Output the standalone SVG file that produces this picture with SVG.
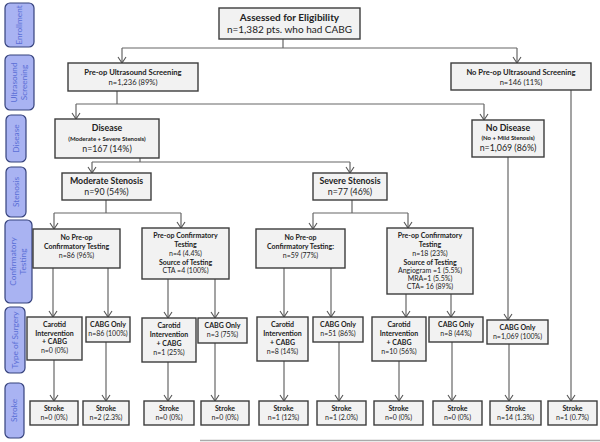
<svg xmlns="http://www.w3.org/2000/svg" width="600" height="442" viewBox="0 0 600 442">
<style>
.box{fill:#f2f2f2;stroke:#3c3c3c;stroke-width:1.4}
.side{fill:#a9b3f2;stroke:#35427c;stroke-width:1.2}
.sl{font-family:Lato,"Open Sans","Liberation Sans",sans-serif;font-size:8.3px;fill:#5b6fd6;text-anchor:middle}
.t{font-family:Lato,"Open Sans","Liberation Sans",sans-serif;font-size:7px;fill:#222;text-anchor:middle}
.b{font-weight:bold}
.big{font-size:10px}
.m{font-size:8.8px}
.u{font-size:7.6px}
.s{font-size:6px}
.conn path{fill:none;stroke:#666;stroke-width:1.2}
.conn path.a{marker-end:url(#ah)}
</style>
<defs>
<marker id="ah" markerUnits="userSpaceOnUse" viewBox="-7 -5 8 10" markerWidth="8" markerHeight="10" refX="0" refY="0" orient="auto">
<path d="M-6,-4 L0,0 L-6,4" fill="none" stroke="#555" stroke-width="1.1"/>
</marker>
</defs>
<rect width="600" height="442" fill="#ffffff"/>

<g id="sidebar">
<g id="lbl-enrollment"><rect class="side" x="5" y="3" width="29" height="44" rx="5"/><text class="sl" transform="translate(19.5,25) rotate(-90)" dy=".35em">Enrollment</text></g>
<g id="lbl-ultrasound"><rect class="side" x="5" y="55" width="29" height="55" rx="5"/><text class="sl" transform="translate(14.5,82.5) rotate(-90)" dy=".35em">Ultrasound</text><text class="sl" transform="translate(24.5,82.5) rotate(-90)" dy=".35em">Screening</text></g>
<g id="lbl-disease"><rect class="side" x="6" y="115" width="20" height="47" rx="5"/><text class="sl" transform="translate(16,138.5) rotate(-90)" dy=".35em">Disease</text></g>
<g id="lbl-stenosis"><rect class="side" x="6" y="167" width="20" height="50" rx="5"/><text class="sl" transform="translate(16,192) rotate(-90)" dy=".35em">Stenosis</text></g>
<g id="lbl-confirm"><rect class="side" x="5" y="220" width="27" height="83" rx="5"/><text class="sl" transform="translate(13.5,261.5) rotate(-90)" dy=".35em">Confirmatory</text><text class="sl" transform="translate(23.5,261.5) rotate(-90)" dy=".35em">Testing</text></g>
<g id="lbl-surgery"><rect class="side" x="5" y="307" width="20" height="66" rx="5"/><text class="sl" transform="translate(15,340) rotate(-90)" dy=".35em">Type of Surgery</text></g>
<g id="lbl-stroke"><rect class="side" x="5" y="383" width="19" height="55" rx="5"/><text class="sl" transform="translate(14.5,410.5) rotate(-90)" dy=".35em">Stroke</text></g>
</g>

<g class="conn" id="connectors">
<path d="M283,39 V48 M122,48 H517"/>
<path class="a" d="M122,48 V63"/>
<path class="a" d="M517,48 V63"/>
<path d="M117,91 V104 M76,104 H484"/>
<path class="a" d="M76,104 V119"/>
<path class="a" d="M484,104 V120"/>
<path d="M140,158 V162 M92,162 H350"/>
<path class="a" d="M92,162 V173"/>
<path class="a" d="M350,162 V173"/>
<path d="M106,200 V213 M54,213 H181"/>
<path class="a" d="M54,213 V229"/>
<path class="a" d="M181,213 V228"/>
<path d="M352,200 V213 M313,213 H408"/>
<path class="a" d="M313,213 V229"/>
<path class="a" d="M408,213 V228"/>
<path class="a" d="M53,268 V317"/>
<path class="a" d="M108,268 V317"/>
<path class="a" d="M168,279 V318"/>
<path class="a" d="M215,279 V318"/>
<path class="a" d="M284,268 V317"/>
<path class="a" d="M331,268 V317"/>
<path class="a" d="M406,294 V317"/>
<path class="a" d="M451,294 V317"/>
<path class="a" d="M508,157 V320"/>
<path class="a" d="M571,90 V401"/>
<path class="a" d="M54,360 V401"/>
<path class="a" d="M106,342 V401"/>
<path class="a" d="M168,362 V401"/>
<path class="a" d="M215,343 V401"/>
<path class="a" d="M284,361 V401"/>
<path class="a" d="M339,342 V401"/>
<path class="a" d="M399,361 V401"/>
<path class="a" d="M452,342 V401"/>
<path class="a" d="M509,344 V401"/>
</g>

<g id="assessed"><rect class="box" x="219" y="8" width="141" height="31"/><text class="t b big" x="289.5" y="20.5">Assessed for Eligibility</text><text class="t big" x="289.5" y="32.5">n=1,382 pts. who had CABG</text></g>
<g id="preop-us"><rect class="box" x="68" y="63" width="130" height="28"/><text class="t b u" x="133" y="75">Pre-op Ultrasound Screening</text><text class="t u" x="133" y="85">n=1,236 (89%)</text></g>
<g id="no-us"><rect class="box" x="451" y="63" width="140" height="27"/><text class="t b u" x="521" y="75">No Pre-op Ultrasound Screening</text><text class="t u" x="521" y="85">n=146 (11%)</text></g>
<g id="disease"><rect class="box" x="55" y="119" width="104" height="39"/><text class="t b m" x="107" y="131">Disease</text><text class="t b s" x="107" y="140.5">(Moderate + Severe Stenosis)</text><text class="t m" x="107" y="152">n=167 (14%)</text></g>
<g id="no-disease"><rect class="box" x="472" y="120" width="72" height="37"/><text class="t b m" x="508" y="131">No Disease</text><text class="t b s" x="508" y="140">(No + Mild Stenosis)</text><text class="t m" x="508" y="151">n=1,069 (86%)</text></g>
<g id="moderate"><rect class="box" x="62" y="173" width="89" height="27"/><text class="t b m" x="106.5" y="184">Moderate Stenosis</text><text class="t m" x="106.5" y="195">n=90 (54%)</text></g>
<g id="severe"><rect class="box" x="313" y="173" width="74" height="27"/><text class="t b m" x="350" y="184">Severe Stenosis</text><text class="t m" x="350" y="195">n=77 (46%)</text></g>

<g id="noconf-mod"><rect class="box" x="33" y="229" width="87" height="39"/><text class="t b" x="76.5" y="240">No Pre-op</text><text class="t b" x="76.5" y="249">Confirmatory Testing</text><text class="t" x="76.5" y="258">n=86 (96%)</text></g>
<g id="conf-mod"><rect class="box" x="142" y="228" width="87" height="51"/><text class="t b" x="185.5" y="238">Pre-op Confirmatory</text><text class="t b" x="185.5" y="247">Testing</text><text class="t" x="185.5" y="256">n=4 (4.4%)</text><text class="t b" x="185.5" y="264.5">Source of Testing</text><text class="t" x="185.5" y="273">CTA =4 (100%)</text></g>
<g id="noconf-sev"><rect class="box" x="256" y="229" width="89" height="39"/><text class="t b" x="300.5" y="240">No Pre-op</text><text class="t b" x="300.5" y="249">Confirmatory Testing:</text><text class="t" x="300.5" y="258">n=59 (77%)</text></g>
<g id="conf-sev"><rect class="box" x="387" y="228" width="86" height="66"/><text class="t b" x="430" y="238">Pre-op Confirmatory</text><text class="t b" x="430" y="247">Testing</text><text class="t" x="430" y="256">n=18 (23%)</text><text class="t b" x="430" y="264.5">Source of Testing</text><text class="t" x="430" y="272.5">Angiogram =1 (5.5%)</text><text class="t" x="430" y="280.5">MRA=1 (5.5%)</text><text class="t" x="430" y="288.5">CTA= 16 (89%)</text></g>

<g id="surg1"><rect class="box" x="27" y="317" width="55" height="43"/><text class="t b" x="54.5" y="326.5">Carotid</text><text class="t b" x="54.5" y="335.5">Intervention</text><text class="t b" x="54.5" y="344">+ CABG</text><text class="t" x="54.5" y="353">n=0 (0%)</text></g>
<g id="surg2"><rect class="box" x="86" y="317" width="44" height="25"/><text class="t b" x="108" y="327">CABG Only</text><text class="t" x="108" y="335.5">n=86 (100%)</text></g>
<g id="surg3"><rect class="box" x="142" y="318" width="54" height="44"/><text class="t b" x="169" y="328">Carotid</text><text class="t b" x="169" y="337">Intervention</text><text class="t b" x="169" y="345.5">+ CABG</text><text class="t" x="169" y="354.5">n=1 (25%)</text></g>
<g id="surg4"><rect class="box" x="198" y="318" width="49" height="25"/><text class="t b" x="222.5" y="328">CABG Only</text><text class="t" x="222.5" y="337">n=3 (75%)</text></g>
<g id="surg5"><rect class="box" x="257" y="317" width="51" height="44"/><text class="t b" x="282.5" y="327">Carotid</text><text class="t b" x="282.5" y="336">Intervention</text><text class="t b" x="282.5" y="344.5">+ CABG</text><text class="t" x="282.5" y="353.5">n=8 (14%)</text></g>
<g id="surg6"><rect class="box" x="313" y="317" width="50" height="25"/><text class="t b" x="338" y="327">CABG Only</text><text class="t" x="338" y="336">n=51 (86%)</text></g>
<g id="surg7"><rect class="box" x="372" y="317" width="54" height="44"/><text class="t b" x="399" y="327">Carotid</text><text class="t b" x="399" y="336">Intervention</text><text class="t b" x="399" y="344.5">+ CABG</text><text class="t" x="399" y="353.5">n=10 (56%)</text></g>
<g id="surg8"><rect class="box" x="429" y="317" width="54" height="25"/><text class="t b" x="456" y="327">CABG Only</text><text class="t" x="456" y="336">n=8 (44%)</text></g>
<g id="surg9"><rect class="box" x="487" y="320" width="61" height="24"/><text class="t b" x="517.5" y="330">CABG Only</text><text class="t" x="517.5" y="339">n=1,069 (100%)</text></g>

<g id="stroke1"><rect class="box" x="30" y="401" width="48" height="24"/><text class="t b" x="54" y="411">Stroke</text><text class="t" x="54" y="420">n=0 (0%)</text></g>
<g id="stroke2"><rect class="box" x="83" y="401" width="46" height="24"/><text class="t b" x="106" y="411">Stroke</text><text class="t" x="106" y="420">n=2 (2.3%)</text></g>
<g id="stroke3"><rect class="box" x="144" y="401" width="50" height="24"/><text class="t b" x="169" y="411">Stroke</text><text class="t" x="169" y="420">n=0 (0%)</text></g>
<g id="stroke4"><rect class="box" x="201" y="401" width="48" height="24"/><text class="t b" x="225" y="411">Stroke</text><text class="t" x="225" y="420">n=0 (0%)</text></g>
<g id="stroke5"><rect class="box" x="259" y="401" width="49" height="24"/><text class="t b" x="283.5" y="411">Stroke</text><text class="t" x="283.5" y="420">n=1 (12%)</text></g>
<g id="stroke6"><rect class="box" x="317" y="401" width="49" height="24"/><text class="t b" x="341.5" y="411">Stroke</text><text class="t" x="341.5" y="420">n=1 (2.0%)</text></g>
<g id="stroke7"><rect class="box" x="374" y="401" width="49" height="24"/><text class="t b" x="398.5" y="411">Stroke</text><text class="t" x="398.5" y="420">n=0 (0%)</text></g>
<g id="stroke8"><rect class="box" x="433" y="401" width="49" height="24"/><text class="t b" x="457.5" y="411">Stroke</text><text class="t" x="457.5" y="420">n=0 (0%)</text></g>
<g id="stroke9"><rect class="box" x="490" y="401" width="51" height="24"/><text class="t b" x="515.5" y="411">Stroke</text><text class="t" x="515.5" y="420">n=14 (1.3%)</text></g>
<g id="stroke10"><rect class="box" x="548" y="401" width="49" height="24"/><text class="t b" x="572.5" y="411">Stroke</text><text class="t" x="572.5" y="420">n=1 (0.7%)</text></g>

<line x1="200" y1="440.5" x2="600" y2="440.5" stroke="#aaaaaa" stroke-width="1.5"/>
</svg>
